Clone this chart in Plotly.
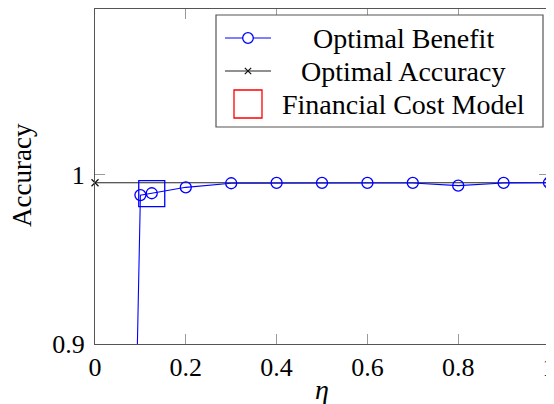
import plotly.graph_objects as go

# ---------------- data ----------------
eta = [0.09, 0.1, 0.125, 0.2, 0.3, 0.4, 0.5, 0.6, 0.7, 0.8, 0.9, 1.0]
benefit_acc = [0.855, 0.988, 0.9891, 0.9926, 0.995, 0.9952, 0.9952, 0.9952, 0.9952, 0.9936, 0.9952, 0.9953]

opt_eta = [0.0, 1.0]
opt_acc = [0.9953, 0.9953]

cost_eta = [0.125]
cost_acc = [0.9889]

x_tickvals = [0, 0.2, 0.4, 0.6, 0.8, 1.0]
x_ticktext = ["0", "0.2", "0.4", "0.6", "0.8", "1"]
y_tickvals = [0.9, 1.0]
y_ticktext = ["0.9", "1"]

legend_names = ["Optimal Benefit", "Optimal Accuracy", "Financial Cost Model"]

# ---------------- layout helpers (page pixel coordinates) ----------------
OFF = 8                      # default body margin of the html page
W, H = 554 - OFF, 404 - OFF  # figure size so that it fills the window
PL, PR, PT, PB = 95, 549, 9, 344   # plot area in page pixels
FONT = "Liberation Serif"
BLUE = "#0000ff"
AXC = "#555555"
TICKC = "#9a9a9a"


def fx(p):
    return (p - PL) / (PR - PL)


def fy(p):
    return (PB - p) / (PB - PT)


fig = go.Figure()

fig.add_trace(go.Scatter(
    x=opt_eta, y=opt_acc, mode="lines+markers",
    line=dict(color="#222222", width=1.1),
    marker=dict(symbol="x-thin", size=7, line=dict(width=1.2, color="#111111")),
    cliponaxis=False, showlegend=False))

fig.add_trace(go.Scatter(
    x=eta, y=benefit_acc, mode="lines+markers",
    line=dict(color=BLUE, width=1.1),
    marker=dict(symbol="circle-open", size=11, color=BLUE, line=dict(width=1.3, color=BLUE)),
    cliponaxis=False, showlegend=False))

fig.add_trace(go.Scatter(
    x=cost_eta, y=cost_acc, mode="markers",
    marker=dict(symbol="square-open", size=26, color=BLUE, line=dict(width=1.3, color=BLUE)),
    cliponaxis=False, showlegend=False))

shapes = []
annotations = []

# legend box
shapes.append(dict(type="rect", xref="paper", yref="paper",
                   x0=fx(216), x1=fx(543), y0=fy(127), y1=fy(15),
                   line=dict(color=AXC, width=1.2), fillcolor="white", layer="above"))
rows = [38, 71, 104]
lx0, lx1, mx = 225, 271, 248
# row 1: blue line + circle
shapes.append(dict(type="line", xref="paper", yref="paper", x0=fx(lx0), x1=fx(lx1),
                   y0=fy(rows[0]), y1=fy(rows[0]), line=dict(color=BLUE, width=1.1)))
r = 5.3
shapes.append(dict(type="circle", xref="paper", yref="paper", x0=fx(mx - r), x1=fx(mx + r),
                   y0=fy(rows[0] + r), y1=fy(rows[0] - r), line=dict(color=BLUE, width=1.3),
                   fillcolor="white"))
# row 2: dark line + x
shapes.append(dict(type="line", xref="paper", yref="paper", x0=fx(lx0), x1=fx(lx1),
                   y0=fy(rows[1]), y1=fy(rows[1]), line=dict(color="#222222", width=1.1)))
d = 3.2
for s in (1, -1):
    shapes.append(dict(type="line", xref="paper", yref="paper", x0=fx(mx - d), x1=fx(mx + d),
                       y0=fy(rows[1] - s * d), y1=fy(rows[1] + s * d),
                       line=dict(color="#111111", width=1.2)))
# row 3: red square
q = 14
shapes.append(dict(type="rect", xref="paper", yref="paper", x0=fx(mx - q), x1=fx(mx + q),
                   y0=fy(rows[2] + q), y1=fy(rows[2] - q), line=dict(color="#ff0000", width=1.3)))

for name, ry in zip(legend_names, rows):
    annotations.append(dict(text=name, xref="paper", yref="paper", x=fx(403), y=fy(ry),
                            xanchor="center", yanchor="middle", showarrow=False,
                            font=dict(family=FONT, size=28, color="black")))

# axis titles
annotations.append(dict(text="<i>η</i>", xref="paper", yref="paper", x=fx(322), y=fy(389),
                        xanchor="center", yanchor="middle", showarrow=False,
                        font=dict(family=FONT, size=28, color="black")))
annotations.append(dict(text="Accuracy", xref="paper", yref="paper", x=fx(22), y=fy(175),
                        xanchor="center", yanchor="middle", showarrow=False, textangle=-90,
                        font=dict(family=FONT, size=27, color="black")))

fig.update_layout(
    width=W, height=H, autosize=False,
    margin=dict(l=PL - OFF, r=W - (PR - OFF), t=PT - OFF, b=H - (PB - OFF), pad=0,
                autoexpand=False),
    paper_bgcolor="white", plot_bgcolor="white",
    font=dict(family=FONT, size=26, color="black"),
    shapes=shapes, annotations=annotations, showlegend=False,
)
fig.update_xaxes(range=[0, 1], tickvals=x_tickvals, ticktext=x_ticktext,
                 showline=True, linecolor=AXC, linewidth=1.2, mirror="ticks",
                 ticks="inside", ticklen=10, tickcolor=TICKC, tickwidth=1,
                 automargin=False, ticklabeloverflow="allow",
                 showgrid=False, zeroline=False, tickfont=dict(family=FONT, size=26))
fig.update_yaxes(range=[0.9, 1.098], tickvals=y_tickvals, ticktext=y_ticktext,
                 showline=True, linecolor=AXC, linewidth=1.2, mirror="ticks",
                 ticks="inside", ticklen=10, tickcolor=TICKC, tickwidth=1,
                 ticklabelstandoff=4, automargin=False, ticklabeloverflow="allow",
                 showgrid=False, zeroline=False, tickfont=dict(family=FONT, size=26))

fig.write_html("out.html")
